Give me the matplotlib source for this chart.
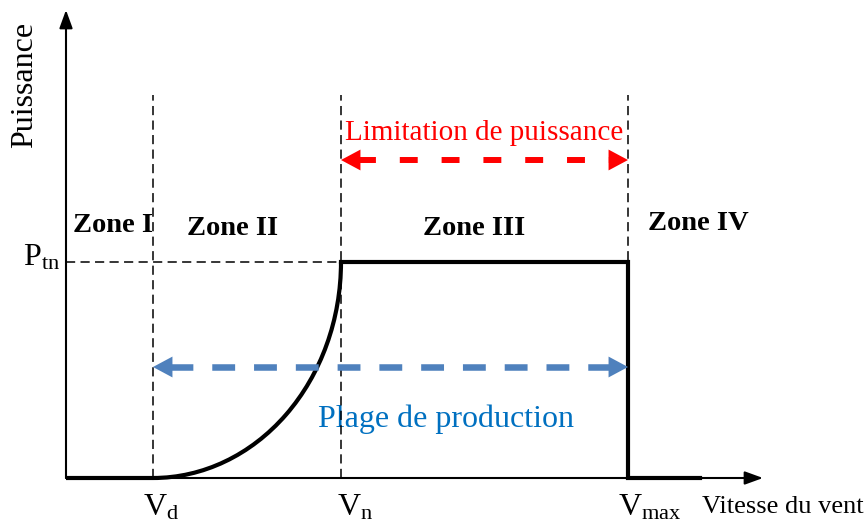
import matplotlib
matplotlib.use('Agg')
import matplotlib.pyplot as plt
from matplotlib.patches import Arc

plt.rcParams['font.family'] = ['Liberation Serif', 'DejaVu Serif']
plt.rcParams['mathtext.fontset'] = 'custom'
plt.rcParams['mathtext.rm'] = 'Liberation Serif'
plt.rcParams['mathtext.it'] = 'Liberation Serif:italic'

# characteristic speeds (schematic units) and rated power
speed_names = ['V$_\\mathrm{d}$', 'V$_\\mathrm{n}$', 'V$_\\mathrm{max}$']
v_d, v_n, v_max = 87, 275, 562
v_end = 634
p_tn = 216
zone_names = ['Zone I', 'Zone II', 'Zone III', 'Zone IV']
zone_x = [7, 121, 357, 582]
zone_y = [246, 243, 243, 248]
x_top, y_top = 697, 468
guide_top = 383

fig = plt.figure(figsize=(8.68, 5.22), dpi=100)
ax = fig.add_axes([0, 0, 1, 1])
ax.set_xlim(-66, 802)
ax.set_ylim(-44, 478)
ax.axis('off')

# axes with arrows
ax.annotate('', xy=(0, y_top), xytext=(0, 0),
            arrowprops=dict(arrowstyle='-|>,head_length=1.1,head_width=0.4', color='black', lw=1.5, shrinkA=0, shrinkB=0))
ax.annotate('', xy=(x_top, 0), xytext=(0, 0),
            arrowprops=dict(arrowstyle='-|>,head_length=1.1,head_width=0.4', color='black', lw=1.5, shrinkA=0, shrinkB=0))

# dashed guides
for v in [v_d, v_n, v_max]:
    ax.plot([v, v], [0, guide_top], color='black', lw=1.1, dashes=(6, 3.5), zorder=4)
ax.plot([0, v_n], [p_tn, p_tn], color='black', lw=1.1, dashes=(6, 3.5))

# power curve
ax.plot([0, v_d], [0, 0], color='black', lw=3, solid_capstyle='butt')
ax.add_patch(Arc((v_d, p_tn), 2 * (v_n - v_d), 2 * p_tn, theta1=270, theta2=360, color='black', lw=3))
ax.plot([v_n, v_max, v_max, v_end], [p_tn, p_tn, 0, 0], color='black', lw=3, solid_joinstyle='miter')


def dashed_double_arrow(x0, x1, y, color, lw, dashes, head_len):
    ax.plot([x0 + head_len, x1 - head_len], [y, y], color=color, lw=lw, dashes=dashes, solid_capstyle='butt', zorder=5)
    for tip, base in [(x0, x0 + head_len + 4), (x1, x1 - head_len - 4)]:
        ax.annotate('', xy=(tip, y), xytext=(base, y),
                    arrowprops=dict(arrowstyle='-|>,head_length=1.4,head_width=0.75', mutation_scale=10,
                                    color=color, lw=0, shrinkA=0, shrinkB=0), zorder=5)


dashed_double_arrow(v_d, v_max, 111, '#4F81BD', 4.7, (3.5, 2.9), 17)
dashed_double_arrow(v_n, v_max, 318, '#FF0000', 4.3, (3.0, 4.0), 17)

ax.text((v_n + v_max) / 2, 338, 'Limitation de puissance', color='#FF0000', fontsize=21, ha='center', va='baseline')
ax.text(252, 51, 'Plage de production', color='#0070C0', fontsize=23, ha='left', va='baseline')

# zone labels
for name, zx, zy in zip(zone_names, zone_x, zone_y):
    ax.text(zx, zy, name, fontsize=20.5, fontweight='bold', ha='left', va='baseline', zorder=2)

# speed labels
for name, v, dx in zip(speed_names, [v_d, v_n, v_max], [-10, -4, -10]):
    ax.text(v + dx, -38, name, fontsize=23, ha='left', va='baseline')
ax.text(636, -35, 'Vitesse du vent', fontsize=19, ha='left', va='baseline')

ax.text(-43, 213, 'P$_\\mathrm{tn}$', fontsize=23, ha='left', va='baseline')
ax.text(-41, 393, 'Puissance', fontsize=23, rotation=90, ha='center', va='center')

fig.savefig('out.png', dpi=100)
